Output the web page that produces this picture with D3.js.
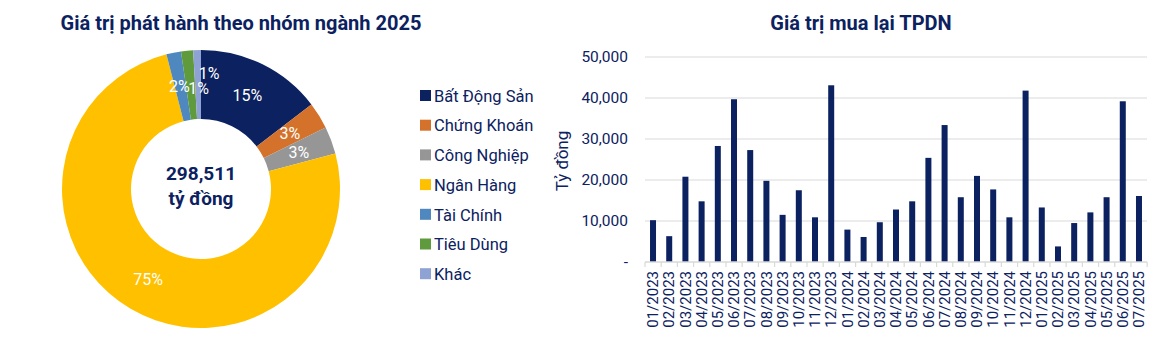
<!DOCTYPE html>
<html>
<head>
<meta charset="utf-8">
<script src="https://cdn.jsdelivr.net/npm/d3@7"></script>
<style>
  body { margin: 0; background: white; font-family: Roboto, "Noto Sans", sans-serif; }
  svg { display: block; }
  .title { font-weight: bold; font-size: 20px; fill: #0b2160; }
  .tick text { fill: #0b2160; font-size: 15.5px; font-family: Roboto, sans-serif; }
</style>
</head>
<body>
<svg id="chart"></svg>
<script>
// donut data (share of 2025 issuance, %)
var sectors = ["Bất Động Sản", "Chứng Khoán", "Công Nghiệp", "Ngân Hàng", "Tài Chính", "Tiêu Dùng", "Khác"];
var shares = [14.6, 3.1, 3.2, 75.1, 1.7, 1.4, 0.9];
var sectorColors = ["#0b2160", "#d4722b", "#969696", "#ffc000", "#4e88be", "#5f9a3c", "#8fa2d4"];
var totalLabel = ["298,511", "tỷ đồng"];

// bar data (buyback value, tỷ đồng)
var months = ["01/2023","02/2023","03/2023","04/2023","05/2023","06/2023","07/2023","08/2023","09/2023","10/2023","11/2023","12/2023",
              "01/2024","02/2024","03/2024","04/2024","05/2024","06/2024","07/2024","08/2024","09/2024","10/2024","11/2024","12/2024",
              "01/2025","02/2025","03/2025","04/2025","05/2025","06/2025","07/2025"];
var buyback = [10200, 6300, 20800, 14800, 28300, 39700, 27300, 19800, 11500, 17500, 10900, 43100,
               7900, 6100, 9700, 12800, 14800, 25400, 33400, 15800, 21000, 17700, 10900, 41800,
               13300, 3800, 9500, 12100, 15800, 39200, 16100];
var yTicks = [0, 10000, 20000, 30000, 40000, 50000];

var navy = "#0b2160";
var screen = {width:1160, height:345};

var svg = d3.select("svg#chart")
    .attr("width", screen.width)
    .attr("height", screen.height);

//---------------- donut ----------------
var donut = {cx:201, cy:189, inner:70, outer:139};

svg.append("text")
    .classed("title", true)
    .attr("text-anchor", "middle")
    .attr("x", 241)
    .attr("y", 30)
    .text("Giá trị phát hành theo nhóm ngành 2025");

var pie = d3.pie().sort(null).value(function(d){ return d; });
var arc = d3.arc().innerRadius(donut.inner).outerRadius(donut.outer);
var slices = pie(shares);

var dg = svg.append("g")
    .attr("transform", "translate(" + donut.cx + "," + donut.cy + ")");

dg.selectAll("path")
    .data(slices)
    .enter()
    .append("path")
    .attr("d", arc)
    .attr("fill", function(d, i){ return sectorColors[i]; });

// small labels get nudged like excel does when they overlap
var nudge = {4: [-1, 0], 5: [8, 3], 6: [11, -11]};

dg.selectAll("text.pct")
    .data(slices)
    .enter()
    .append("text")
    .classed("pct", true)
    .attr("text-anchor", "middle")
    .attr("dy", "0.35em")
    .attr("fill", "white")
    .attr("font-size", 16)
    .attr("transform", function(d, i){
        var c = arc.centroid(d);
        var n = nudge[i] || [0, 0];
        return "translate(" + (c[0] + n[0]) + "," + (c[1] + n[1]) + ")";
    })
    .text(function(d){ return Math.round(d.value) + "%"; });

dg.selectAll("text.total")
    .data(totalLabel)
    .enter()
    .append("text")
    .classed("total", true)
    .attr("text-anchor", "middle")
    .attr("font-weight", "bold")
    .attr("font-size", 19)
    .attr("fill", navy)
    .attr("y", function(d, i){ return -9 + i * 25; })
    .text(function(d){ return d; });

// legend
var legend = svg.append("g").attr("transform", "translate(420,96)");
var rows = legend.selectAll("g")
    .data(sectors)
    .enter()
    .append("g")
    .attr("transform", function(d, i){ return "translate(0," + (i * 29.7) + ")"; });
rows.append("rect")
    .attr("x", 0).attr("y", -6)
    .attr("width", 11).attr("height", 11)
    .attr("fill", function(d, i){ return sectorColors[i]; });
rows.append("text")
    .attr("x", 14)
    .attr("dy", "0.35em")
    .attr("font-size", 16.5)
    .attr("fill", navy)
    .text(function(d){ return d; });

//---------------- bars ----------------
var margins = {left:645, right:13, top:57, bottom:83};
var graph = {
    width: screen.width - margins.left - margins.right,
    height: screen.height - margins.top - margins.bottom
};

svg.append("text")
    .classed("title", true)
    .attr("text-anchor", "middle")
    .attr("x", 861)
    .attr("y", 30)
    .text("Giá trị mua lại TPDN");

var xScale = d3.scaleBand()
    .domain(months)
    .range([0, graph.width])
    .paddingInner(0.63)
    .paddingOuter(0.31);

var yScale = d3.scaleLinear()
    .domain([0, 50000])
    .range([graph.height, 0]);

var bg = svg.append("g")
    .attr("transform", "translate(" + margins.left + "," + margins.top + ")");

// gridlines
bg.selectAll("line.grid")
    .data(yTicks.slice(1))
    .enter()
    .append("line")
    .classed("grid", true)
    .attr("x1", 0).attr("x2", graph.width)
    .attr("y1", function(d){ return yScale(d); })
    .attr("y2", function(d){ return yScale(d); })
    .attr("stroke", "#d9d9d9")
    .attr("stroke-width", 1);

var yAxis = d3.axisLeft(yScale)
    .tickValues(yTicks)
    .tickSize(0)
    .tickPadding(17)
    .tickFormat(function(d){ return d === 0 ? "-" : d3.format(",")(d); });
bg.append("g")
    .call(yAxis)
    .call(function(g){ g.select(".domain").remove(); });

bg.selectAll("rect.bar")
    .data(buyback)
    .enter()
    .append("rect")
    .classed("bar", true)
    .attr("x", function(d, i){ return xScale(months[i]); })
    .attr("y", function(d){ return yScale(d); })
    .attr("width", xScale.bandwidth())
    .attr("height", function(d){ return graph.height - yScale(d); })
    .attr("fill", navy);

// x axis: excel style ticks between categories
var xg = bg.append("g").attr("transform", "translate(0," + graph.height + ")");
xg.append("line")
    .attr("x1", 0).attr("x2", graph.width)
    .attr("stroke", "#d9d9d9").attr("stroke-width", 1.5);
var step = xScale.step();
xg.selectAll("line.tk")
    .data(d3.range(months.length + 1))
    .enter()
    .append("line")
    .classed("tk", true)
    .attr("x1", function(i){ return i * step; })
    .attr("x2", function(i){ return i * step; })
    .attr("y1", 0).attr("y2", 5)
    .attr("stroke", "#d9d9d9").attr("stroke-width", 1.2);
xg.selectAll("text")
    .data(months)
    .enter()
    .append("text")
    .attr("transform", function(d){
        return "translate(" + (xScale(d) + xScale.bandwidth() / 2) + ",9) rotate(-90)";
    })
    .attr("text-anchor", "end")
    .attr("dy", "0.35em")
    .attr("font-size", 15)
    .attr("fill", navy)
    .text(function(d){ return d; });

svg.append("g")
    .attr("transform", "translate(568,161)")
    .append("text")
    .attr("transform", "rotate(-90)")
    .attr("text-anchor", "middle")
    .attr("font-size", 17)
    .attr("fill", navy)
    .text("Tỷ đồng");
</script>
</body>
</html>
